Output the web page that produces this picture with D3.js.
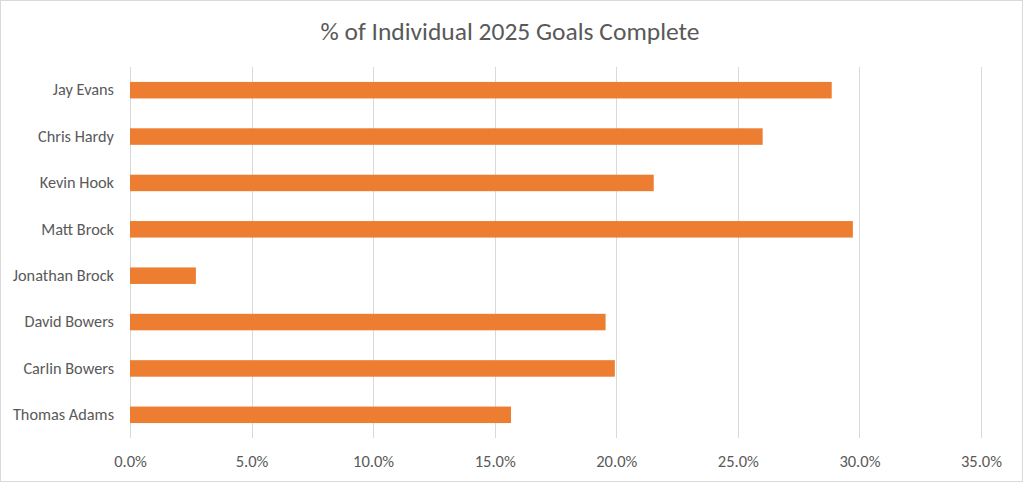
<!DOCTYPE html>
<html>
<head>
<meta charset="utf-8">
<script src="https://cdn.jsdelivr.net/npm/d3@7"></script>
<style>
  html, body { margin: 0; padding: 0; background: #fff; }
  svg { display: block; }
  text { font-family: Carlito, "Liberation Sans", Arial, sans-serif; fill: #595959; }
</style>
</head>
<body>
<svg id="chart" width="1023" height="482"></svg>
<script>
const title = "% of Individual 2025 Goals Complete";
const categories = ["Jay Evans", "Chris Hardy", "Kevin Hook", "Matt Brock", "Jonathan Brock", "David Bowers", "Carlin Bowers", "Thomas Adams"];
const values = [0.2886, 0.2602, 0.2154, 0.2973, 0.0271, 0.1956, 0.1994, 0.1567];
const xTicks = [0, 0.05, 0.10, 0.15, 0.20, 0.25, 0.30, 0.35];

const W = 1023, H = 482;
const plot = { left: 130, right: 981, top: 67, bottom: 438 };
const FONT = 'Carlito, "Liberation Sans", Arial, sans-serif';

const svg = d3.select("#chart");

svg.append("rect")
  .attr("x", 0.5).attr("y", 0.5)
  .attr("width", W - 1).attr("height", H - 1)
  .attr("fill", "#fff").attr("stroke", "#d9d9d9");

svg.append("text")
  .attr("x", 510).attr("y", 40)
  .attr("text-anchor", "middle")
  .style("font-size", "25.5px")
  .text(title);

const x = d3.scaleLinear().domain([0, 0.35]).range([plot.left, plot.right]);
const gap = 0.644;
const y = d3.scaleBand().domain(categories).range([plot.top, plot.bottom])
  .paddingInner(gap).paddingOuter(gap / 2);

// gridlines
svg.append("g")
  .selectAll("line").data(xTicks).join("line")
  .attr("x1", d => Math.round(x(d)) + 0.5).attr("x2", d => Math.round(x(d)) + 0.5)
  .attr("y1", plot.top).attr("y2", plot.bottom)
  .attr("stroke", "#d9d9d9").attr("stroke-width", 1);

// bars
svg.append("g")
  .selectAll("rect").data(categories).join("rect")
  .attr("x", x(0))
  .attr("y", d => y(d))
  .attr("width", (d, i) => x(values[i]) - x(0))
  .attr("height", y.bandwidth())
  .attr("fill", "#ED7D31");

// x axis labels
const xAxis = d3.axisBottom(x).tickValues(xTicks).tickFormat(d3.format(".1%")).tickSize(0).tickPadding(0);
const gx = svg.append("g").attr("transform", `translate(0,${plot.bottom + 29})`).call(xAxis);
gx.select(".domain").remove();
gx.selectAll("text").style("font-size", "16.5px").attr("fill", "#595959").attr("dy", 0)
  .style("font-family", FONT);

// y axis labels
const yAxis = d3.axisLeft(y).tickSize(0).tickPadding(16);
const gy = svg.append("g").attr("transform", `translate(${plot.left},0)`).call(yAxis);
gy.select(".domain").remove();
gy.selectAll("text").style("font-size", "16.3px").attr("fill", "#595959")
  .style("font-family", FONT);
</script>
</body>
</html>
